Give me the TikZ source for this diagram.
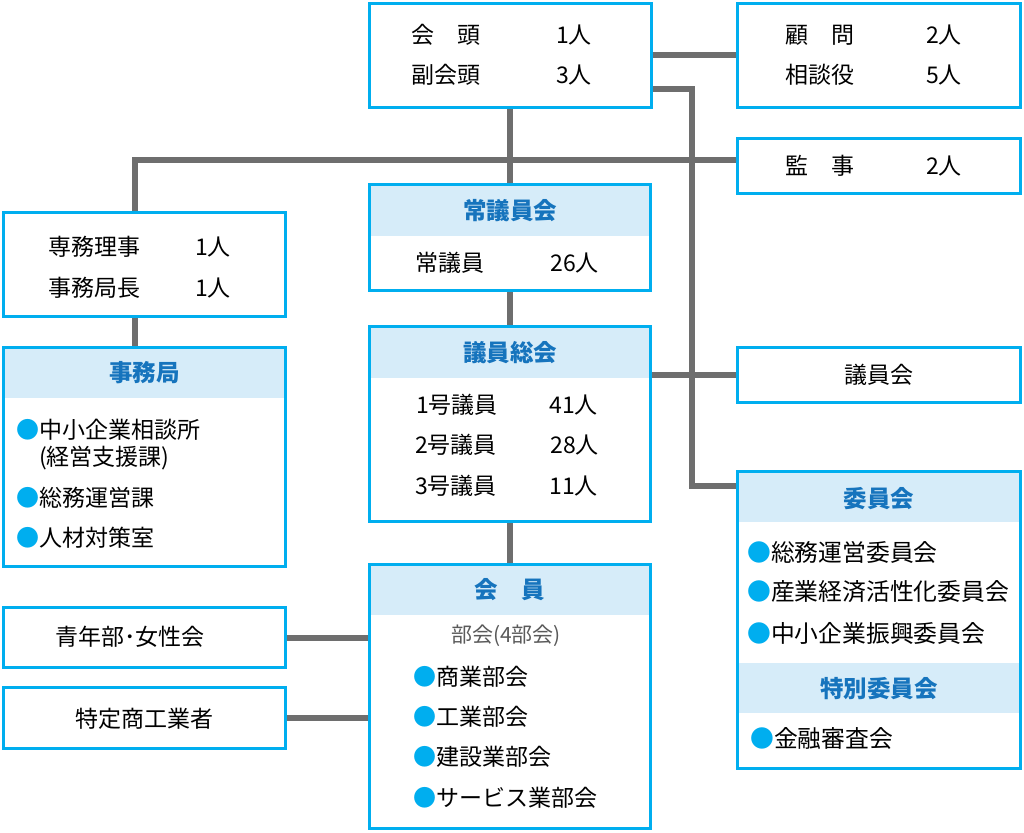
\documentclass[tikz,border=0pt]{standalone}
\usepackage{fontspec}
\setmainfont{Noto Sans CJK JP}
\definecolor{frameblue}{RGB}{0,174,239}
\definecolor{headfill}{RGB}{214,236,249}
\definecolor{headblue}{RGB}{22,116,189}
\definecolor{linegray}{RGB}{110,110,110}
\definecolor{subgray}{RGB}{90,90,90}
\newcommand\maru{{\color{frameblue}●}}
\tikzset{
  box/.style={draw=frameblue, line width=3pt, fill=white, inner sep=0pt},
  link/.style={draw=linegray, line width=6pt},
  txt/.style={inner sep=0pt, font=\fontsize{23}{23}\selectfont},
  bigtxt/.style={inner sep=0pt, font=\fontsize{23.8}{23.8}\selectfont},
  headtxt/.style={inner sep=0pt, text=headblue, font=\bfseries\fontsize{23.5}{23.5}\selectfont},
}
\begin{document}
\begin{tikzpicture}[x=1pt, y=-1pt]
  \useasboundingbox (0,0) rectangle (1024,832);
  % 枠
  \node[box, minimum width=282pt, minimum height=104pt] (kaito) at (510,55.5) {};
  \node[box, minimum width=283pt, minimum height=104pt] (komon) at (879,55.5) {};
  \node[box, minimum width=283pt, minimum height=55pt] (kanji) at (879,166) {};
  \node[box, minimum width=281pt, minimum height=106pt] (joginkai) at (510,237.5) {};
  \node[box, minimum width=282pt, minimum height=104pt] (senmu) at (144.5,264.5) {};
  \node[box, minimum width=282pt, minimum height=219pt] (jimukyoku) at (144.5,457) {};
  \node[box, minimum width=281pt, minimum height=195pt] (giinsokai) at (510,424) {};
  \node[box, minimum width=283pt, minimum height=55pt] (giinkai) at (879,375) {};
  \node[box, minimum width=283pt, minimum height=297pt] (iinkai) at (879,620) {};
  \node[box, minimum width=282pt, minimum height=60pt] (seinen) at (144.5,637.5) {};
  \node[box, minimum width=282pt, minimum height=61pt] (tokutei) at (144.5,718) {};
  \node[box, minimum width=281pt, minimum height=264pt] (kaiin) at (510,696.5) {};
  % 見出しの帯
  \fill[headfill] ([shift={(3pt,-3pt)}]joginkai.north west) rectangle ([shift={(-3pt,-53pt)}]joginkai.north east);
  \fill[headfill] ([shift={(3pt,-3pt)}]jimukyoku.north west) rectangle ([shift={(-3pt,-52pt)}]jimukyoku.north east);
  \fill[headfill] ([shift={(3pt,-3pt)}]giinsokai.north west) rectangle ([shift={(-3pt,-53pt)}]giinsokai.north east);
  \fill[headfill] ([shift={(3pt,-3pt)}]iinkai.north west) rectangle ([shift={(-3pt,-52pt)}]iinkai.north east);
  \fill[headfill] ([shift={(3pt,-193pt)}]iinkai.north west) rectangle ([shift={(-3pt,-243pt)}]iinkai.north east);
  \fill[headfill] ([shift={(3pt,-3pt)}]kaiin.north west) rectangle ([shift={(-3pt,-52pt)}]kaiin.north east);
  % 線
  \coordinate (hub) at (135,160);
  \coordinate (bend) at (692,486);
  \draw[link] (kaito.east) -- (komon.west);
  \draw[link] ([yshift=-33.5pt]kaito.east) -| (bend) -- (bend -| iinkai.west);
  \draw[link] (senmu.north -| hub) |- (kanji.west |- hub);
  \draw[link] (kaito.south) -- (joginkai.north);
  \draw[link] (joginkai.south) -- (giinsokai.north);
  \draw[link] (giinsokai.south) -- (kaiin.north);
  \draw[link] (senmu.south -| hub) -- (jimukyoku.north -| hub);
  \draw[link] (giinkai.west) -- (giinkai.west -| giinsokai.east);
  \draw[link] (seinen.east) -- (seinen.east -| kaiin.west);
  \draw[link] (tokutei.east) -- (tokutei.east -| kaiin.west);
  % 会頭
  \node[txt, anchor=west] (kaicho) at (411,35) {会　頭};
  \node[txt, anchor=east] (kaichoN) at (592,35) {1人};
  \node[txt, anchor=west] (fuku) at (411,75) {副会頭};
  \node[txt, anchor=east] (fukuN) at (592,75) {3人};
  % 顧問・監事
  \node[txt, anchor=west] (komonT) at (785,35) {顧　問};
  \node[txt, anchor=east] (komonN) at (962,35) {2人};
  \node[txt, anchor=west] (sodan) at (785,75) {相談役};
  \node[txt, anchor=east] (sodanN) at (962,75) {5人};
  \node[txt, anchor=west] (kanjiT) at (785,166) {監　事};
  \node[txt, anchor=east] (kanjiN) at (962,166) {2人};
  % 常議員会
  \node[headtxt] (joginkaiT) at (510,211) {常議員会};
  \node[txt, anchor=west] (jogin) at (415,263) {常議員};
  \node[txt, anchor=east] (joginN) at (599,263) {26人};
  % 専務理事・事務局
  \node[txt, anchor=west] (senmuT) at (48,247) {専務理事};
  \node[txt, anchor=east] (senmuN) at (231,247) {1人};
  \node[txt, anchor=west] (kyokucho) at (48,288) {事務局長};
  \node[txt, anchor=east] (kyokuchoN) at (231,288) {1人};
  \node[headtxt] (jimukyokuT) at (144.5,373) {事務局};
  \node[txt, anchor=west] (sodanjo) at (16,430) {\maru 中小企業相談所};
  \node[txt, anchor=west] (keiei) at (39,458) {(経営支援課)};
  \node[txt, anchor=west] (somuka) at (16,498) {\maru 総務運営課};
  \node[txt, anchor=west] (jinzai) at (16,538) {\maru 人材対策室};
  % 議員総会
  \node[headtxt] (giinsokaiT) at (510,353) {議員総会};
  \node[txt, anchor=west] (giin1) at (416,405) {1号議員};
  \node[txt, anchor=east] (giin1N) at (598,405) {41人};
  \node[txt, anchor=west] (giin2) at (415,445) {2号議員};
  \node[txt, anchor=east] (giin2N) at (599,445) {28人};
  \node[txt, anchor=west] (giin3) at (415,486) {3号議員};
  \node[txt, anchor=east] (giin3N) at (598,486) {11人};
  % 議員会・委員会
  \node[txt] (giinkaiT) at (879,375) {議員会};
  \node[headtxt] (iinkaiT) at (879,499) {委員会};
  \node[bigtxt, anchor=west] (somuiin) at (747,552) {\maru 総務運営委員会};
  \node[bigtxt, anchor=west] (sangyo) at (747,592) {\maru 産業経済活性化委員会};
  \node[bigtxt, anchor=west] (shinko) at (747,633) {\maru 中小企業振興委員会};
  \node[headtxt] (tokubetsuT) at (879,689) {特別委員会};
  \node[bigtxt, anchor=west] (kinyu) at (750,738) {\maru 金融審査会};
  % 会員
  \node[txt] (seinenT) at (130,637) {青年部･女性会};
  \node[txt] (tokuteiT) at (144.5,719) {特定商工業者};
  \node[headtxt] (kaiinT) at (510,590) {会　員};
  \node[inner sep=0pt, text=subgray, font=\fontsize{21}{21}\selectfont] (bukai) at (506,636) {部会(4部会)};
  \node[txt, anchor=west] (shogyo) at (413,677) {\maru 商業部会};
  \node[txt, anchor=west] (kogyo) at (413,717) {\maru 工業部会};
  \node[txt, anchor=west] (kensetsu) at (413,757) {\maru 建設業部会};
  \node[txt, anchor=west] (service) at (413,798) {\maru サービス業部会};
\end{tikzpicture}
\end{document}
